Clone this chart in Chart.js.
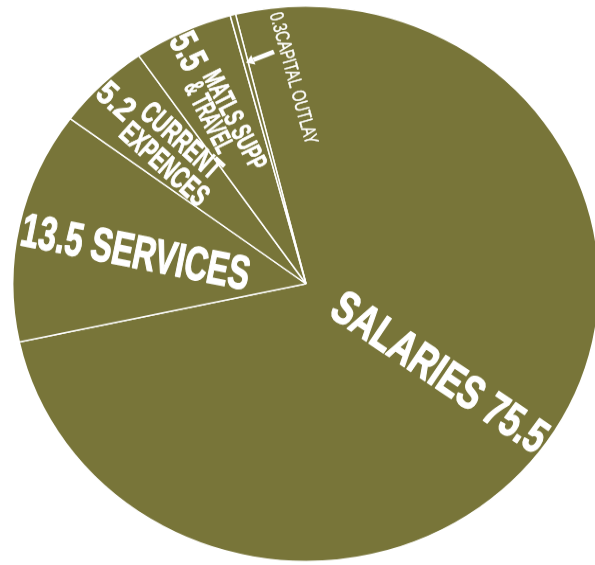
<!DOCTYPE html>
<html>
<head>
<meta charset="utf-8">
<script src="https://cdn.jsdelivr.net/npm/chart.js@4.4.1/dist/chart.umd.min.js"></script>
<style>
  html, body { margin: 0; padding: 0; background: #fff; }
  body { width: 595px; height: 565px; overflow: hidden; position: relative; }
  #wrap { position: absolute; left: 0; top: -5.8px; width: 612px; height: 612px; transform: scaleY(0.947); transform-origin: 0 0; }
</style>
</head>
<body>
<div id="wrap"><canvas id="budgetPie" width="612" height="612"></canvas></div>
<script>
const categories = [['SALARIES'], ['SERVICES'], ['CURRENT', 'EXPENCES'], ['MATLS SUPP', '& TRAVEL'], ['CAPITAL OUTLAY']];
const values = [75.5, 13.5, 5.2, 5.5, 0.3];

const OLIVE = '#787539';
const SQUASH = 0.947; // the pie in the picture is a bit wider than tall

// where each slice's text sits: anchor in polar form (deg clockwise from top, share of radius),
// text angle, then pieces laid out along the text (u) and across it (v)
const labelLayout = [
  { slice: 0, at: [124.3, 0.549], rot: 34, pieces: [
    { text: 'name value', u: -123, v: 0, cap: 34, w: 250 } ] },
  { slice: 1, at: [281.6, 0.592], rot: 11.3, pieces: [
    { text: 'value name', u: -116, v: 0, cap: 34, w: 232 } ] },
  { slice: 2, at: [314.3, 0.743], rot: 42, pieces: [
    { text: 'value', u: -71, v: -7, cap: 24, w: 40 },
    { text: 'line0', u: -25, v: -21.5, cap: 22.5, w: 98 },
    { text: 'line1', u: -27, v: 7.5, cap: 22.5, w: 108 } ] },
  { slice: 3, at: [333.65, 0.699], rot: 63, pieces: [
    { text: 'value', u: -83, v: -4, cap: 28, w: 37 },
    { text: 'line0', u: -36, v: -14, cap: 20, w: 108 },
    { text: 'line1', u: -35, v: 7.5, cap: 20, w: 77 } ] },
  { slice: 4, at: [356.97, 0.742], rot: 74.5, pieces: [
    { text: 'valuename', u: -68, v: 0, cap: 14, w: 136, weight: 'normal' } ] }
];
// little pointer onto the thin slice
const arrowTail = [352.56, 0.8426];
const arrowTip = [345.58, 0.822];

function pieceText(i, kind) {
  const name = categories[i].join(' ');
  const val = values[i].toFixed(1);
  if (kind === 'name value') return name + ' ' + val;
  if (kind === 'value name') return val + ' ' + name;
  if (kind === 'valuename') return val + name;
  if (kind === 'value') return val;
  if (kind === 'line0') return categories[i][0];
  if (kind === 'line1') return categories[i][1];
  return '';
}

const sliceLabels = {
  id: 'sliceLabels',
  afterDatasetsDraw(chart) {
    const arcs = chart.getDatasetMeta(0).data;
    const cx = arcs[0].x, cy = arcs[0].y, R = arcs[0].outerRadius;
    const ctx = chart.ctx;
    const polar = (deg, f) => {
      const a = deg * Math.PI / 180;
      return [cx + f * R * Math.sin(a), cy - f * R * Math.cos(a)];
    };

    ctx.save();
    ctx.fillStyle = '#fff';
    ctx.strokeStyle = '#fff';
    ctx.textAlign = 'left';
    ctx.textBaseline = 'alphabetic';
    ctx.lineJoin = 'round';
    labelLayout.forEach(lab => {
      const [px, py] = polar(lab.at[0], lab.at[1]);
      ctx.save();
      ctx.translate(px, py);
      ctx.scale(1, 1 / SQUASH);
      ctx.rotate(lab.rot * Math.PI / 180);
      lab.pieces.forEach(p => {
        const size = p.cap / 0.716;
        const bold = !p.weight;
        ctx.font = (p.weight || 'bold') + ' ' + size.toFixed(1) + 'px "Liberation Sans Narrow", "Liberation Sans", Arial, sans-serif';
        const str = pieceText(lab.slice, p.text);
        const y = p.v + p.cap / 2;
        ctx.fillText(str, p.u, y, p.w);
        // the print is heavier than a plain bold face
        ctx.lineWidth = bold ? size * 0.03 : 0.4;
        ctx.strokeText(str, p.u, y, p.w);
      });
      ctx.restore();
    });

    const [tx, ty] = polar(arrowTail[0], arrowTail[1]);
    const [hx, hy] = polar(arrowTip[0], arrowTip[1]);
    const ang = Math.atan2(hy - ty, hx - tx);
    const head = 8, half = 5.5;
    const bx = hx - head * Math.cos(ang), by = hy - head * Math.sin(ang);
    ctx.lineWidth = 5;
    ctx.beginPath();
    ctx.moveTo(tx, ty);
    ctx.lineTo(bx, by);
    ctx.stroke();
    ctx.beginPath();
    ctx.moveTo(hx, hy);
    ctx.lineTo(bx + half * Math.sin(ang), by - half * Math.cos(ang));
    ctx.lineTo(bx - half * Math.sin(ang), by + half * Math.cos(ang));
    ctx.closePath();
    ctx.fill();
    ctx.restore();
  }
};

new Chart(document.getElementById('budgetPie'), {
  type: 'pie',
  data: {
    labels: categories.map(c => c.join(' ')),
    datasets: [{
      data: values,
      backgroundColor: OLIVE,
      borderColor: '#fff',
      borderWidth: 1.5
    }]
  },
  options: {
    responsive: false,
    animation: false,
    devicePixelRatio: 1,
    rotation: -13.9,
    layout: { padding: 12 },
    plugins: { legend: { display: false }, tooltip: { enabled: false } }
  },
  plugins: [sliceLabels]
});
</script>
</body>
</html>
